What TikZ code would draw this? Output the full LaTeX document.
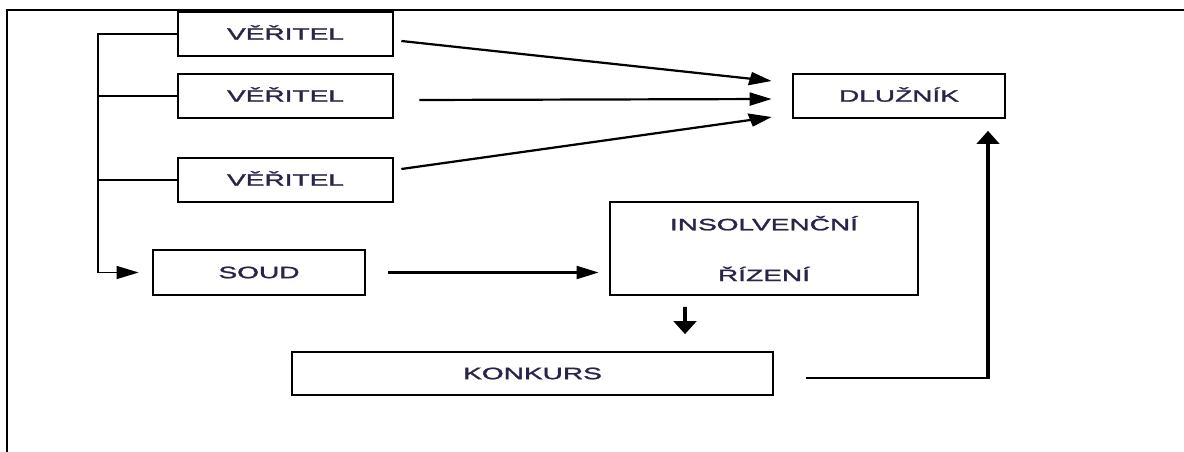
\documentclass[tikz,border=0pt]{standalone}
\usepackage{fontspec}
\setmainfont{Liberation Sans}
\newfontfamily\labfont[FakeBold=1.3]{Liberation Sans}
\usetikzlibrary{arrows.meta,calc}
\definecolor{txt}{HTML}{2A2548}
\begin{document}
\begin{tikzpicture}
\useasboundingbox (0,0) rectangle (1184pt,-452pt);
\begin{scope}[transform canvas={xscale=1.7}, x=0.588235pt, y=-1pt,
  box/.style={draw=black, line width=1.6pt, inner sep=0pt, text=txt,
    font=\labfont\fontsize{16.5}{19.8}\selectfont},
  oneline/.style={text height=11.35pt, text depth=0pt},
  frameline/.style={draw=black, line width=1.6pt},
  busline/.style={draw=black, line width=1.6pt},
  arr/.style={draw=black, line width=2.2pt, -{Triangle[length=13pt,width=13pt]}}]

\draw[frameline] (1184,10) -- (7,10) -- (7,452);

\node[box, oneline, minimum width=126.5pt, minimum height=44pt] (v1) at (285.5,34) {VĚŘITEL};
\node[box, oneline, minimum width=126.5pt, minimum height=44pt] (v2) at (285.5,96) {VĚŘITEL};
\node[box, oneline, minimum width=126.5pt, minimum height=44pt] (v3) at (285.5,180) {VĚŘITEL};
\node[box, oneline, minimum width=124.7pt, minimum height=44pt] (dl) at (899,96) {DLUŽNÍK};
\node[box, oneline, minimum width=124.7pt, minimum height=45pt] (soud) at (259,272.5) {SOUD};
\node[box, align=center, minimum width=181.2pt, minimum height=93pt] (insol) at (764,248.5) {INSOLVENČNÍ\\[31pt]ŘÍZENÍ};
\node[box, oneline, minimum width=282.9pt, minimum height=43pt] (konkurs) at (532.5,373.5) {KONKURS};

\coordinate (bus) at (98,272.5);
\draw[busline, -{Triangle[length=13pt,width=13pt]}] (v1.west) -- (v1.west -| bus) -- (bus) -- ($(soud.west)+(-13,0)$);
\draw[busline] (v2.west) -- (v2.west -| bus);
\draw[busline] (v3.west) -- (v3.west -| bus);

\draw[arr] ($(v1.east)+(7,7)$) -- ($(dl.west)+(-20,-15)$);
\draw[arr] ($(v2.east)+(25,4)$) -- ($(dl.west)+(-20,3)$);
\draw[arr] ($(v3.east)+(7,-11)$) -- ($(dl.west)+(-20,21)$);
\draw[arr] ($(soud.east)+(22,0)$) -- ($(insol.west)+(-10,24)$);
\draw[arr] ($(insol.south)+(-79,11)$) -- ($(konkurs.north)+(152.5,-17)$);
\draw[arr, line width=2pt] ($(konkurs.east)+(32,4.5)$) -| ($(dl.south)+(89,12)$);
\end{scope}
\end{tikzpicture}
\end{document}
